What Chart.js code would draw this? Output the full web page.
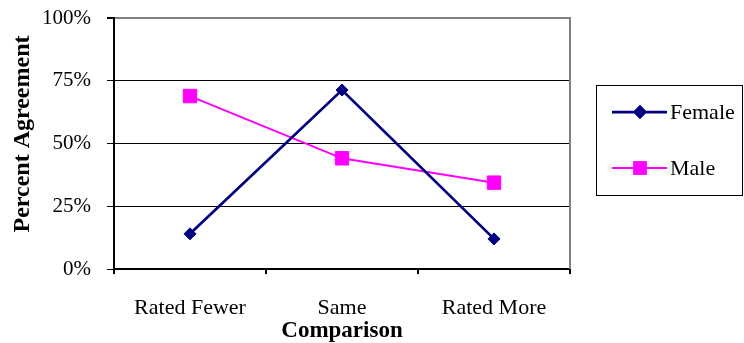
<!DOCTYPE html>
<html>
<head>
<meta charset="utf-8">
<script src="https://cdn.jsdelivr.net/npm/chart.js@4/dist/chart.umd.min.js"></script>
<style>
  html, body { margin: 0; padding: 0; background: #ffffff; }
  #wrap { width: 744px; height: 343px; }
</style>
</head>
<body>
<div id="wrap"><canvas id="chart" width="744" height="343"></canvas></div>
<script>
// Comparison categories and percent agreement by gender
const categories = ['Rated Fewer', 'Same', 'Rated More'];
const femaleValues = [14.0, 71.3, 12.0];
const maleValues = [68.9, 44.1, 34.4];
const seriesNames = ['Female', 'Male'];
const yTickValues = [0, 25, 50, 75, 100];
const xAxisTitle = 'Comparison';
const yAxisTitle = 'Percent Agreement';

const SERIF = '"Liberation Serif", "Times New Roman", serif';
const NAVY = '#000080';
const MAGENTA = '#FF00FF';

// Gray frame on the right of the plot area
const framePlugin = {
  id: 'frame',
  beforeDatasetsDraw(chart) {
    const { ctx, chartArea: a } = chart;
    ctx.save();
    ctx.strokeStyle = '#808080';
    ctx.lineWidth = 2;
    ctx.beginPath();
    ctx.moveTo(a.right, a.top - 1);
    ctx.lineTo(a.right, a.bottom);
    ctx.stroke();
    ctx.restore();
  }
};

// Vertical axis title, placed a little above the axis centre
const yTitlePlugin = {
  id: 'yTitle',
  afterDraw(chart) {
    const { ctx } = chart;
    ctx.save();
    ctx.translate(23, 134);
    ctx.rotate(-Math.PI / 2);
    ctx.font = 'bold 24px ' + SERIF;
    ctx.fillStyle = '#000';
    ctx.textAlign = 'center';
    ctx.textBaseline = 'middle';
    ctx.fillText(yAxisTitle, 0, 0);
    ctx.restore();
  }
};

// Boxed legend to the right of the plot
const boxLegendPlugin = {
  id: 'boxLegend',
  afterDraw(chart) {
    const { ctx } = chart;
    const box = { x: 596, y: 85, w: 146, h: 110 };
    ctx.save();
    ctx.strokeStyle = '#000';
    ctx.lineWidth = 1;
    ctx.strokeRect(box.x + 0.5, box.y + 0.5, box.w, box.h);
    const rows = [112, 168];
    chart.data.datasets.forEach((ds, i) => {
      const y = rows[i];
      ctx.strokeStyle = ds.borderColor;
      ctx.lineWidth = ds.borderWidth;
      ctx.beginPath();
      ctx.moveTo(612, y);
      ctx.lineTo(667, y);
      ctx.stroke();
      Chart.helpers.drawPoint(ctx, {
        pointStyle: ds.pointStyle,
        radius: ds.pointStyle === 'rect' ? 8 : 5,
        borderWidth: 1,
        rotation: 0
      }, 640, y);
      ctx.fillStyle = ds.pointBackgroundColor;
      ctx.strokeStyle = ds.pointBorderColor;
      ctx.fill();
      ctx.stroke();
      ctx.fillStyle = '#000';
      ctx.font = '22px ' + SERIF;
      ctx.textAlign = 'left';
      ctx.textBaseline = 'middle';
      ctx.fillText(ds.label, 670, y + 1);
    });
    ctx.restore();
  }
};

new Chart(document.getElementById('chart'), {
  type: 'line',
  data: {
    labels: categories,
    datasets: [
      {
        label: seriesNames[0],
        data: femaleValues,
        borderColor: NAVY,
        backgroundColor: NAVY,
        pointBackgroundColor: NAVY,
        pointBorderColor: NAVY,
        borderWidth: 2.75,
        pointStyle: 'rectRot',
        pointRadius: 6,
        pointBorderWidth: 1,
        tension: 0
      },
      {
        label: seriesNames[1],
        data: maleValues,
        borderColor: MAGENTA,
        backgroundColor: MAGENTA,
        pointBackgroundColor: MAGENTA,
        pointBorderColor: MAGENTA,
        borderWidth: 2,
        pointStyle: 'rect',
        pointRadius: 9.5,
        pointBorderWidth: 1,
        tension: 0
      }
    ]
  },
  options: {
    responsive: false,
    animation: false,
    devicePixelRatio: 1,
    layout: { padding: { left: 0, right: 174, top: 18, bottom: 0 } },
    plugins: {
      legend: { display: false },
      tooltip: { enabled: false }
    },
    scales: {
      x: {
        type: 'category',
        offset: true,
        grid: {
          display: true,
          drawOnChartArea: false,
          drawTicks: true,
          tickLength: 5,
          offset: true,
          color: '#000',
          lineWidth: 2
        },
        border: { display: true, color: '#000', width: 2 },
        ticks: {
          color: '#000',
          font: { family: SERIF, size: 22 },
          padding: 21,
          maxRotation: 0,
          autoSkip: false
        },
        title: {
          display: true,
          text: xAxisTitle,
          color: '#000',
          font: { family: SERIF, size: 23, weight: 'bold', lineHeight: 1.05 },
          padding: { top: 0, bottom: 0 }
        },
        afterFit(scale) {
          scale.height = 74;
          scale.paddingLeft = 0;
          scale.paddingRight = 0;
        }
      },
      y: {
        min: 0,
        max: 100,
        afterBuildTicks(scale) {
          scale.ticks = yTickValues.map(v => ({ value: v }));
        },
        grid: {
          color: c => (c.tick && c.tick.value === 100 ? '#808080' : '#000'),
          lineWidth: c => (c.tick && c.tick.value === 100 ? 2 : 1),
          tickColor: '#000',
          tickLength: 7,
          drawTicks: true
        },
        border: { display: true, color: '#000', width: 2 },
        ticks: {
          color: '#000',
          font: { family: SERIF, size: 21 },
          padding: 16,
          callback: v => v + '%'
        },
        afterFit(scale) {
          scale.width = 114;
          scale.paddingTop = 0;
          scale.paddingBottom = 0;
        }
      }
    }
  },
  plugins: [framePlugin, yTitlePlugin, boxLegendPlugin]
});
</script>
</body>
</html>
